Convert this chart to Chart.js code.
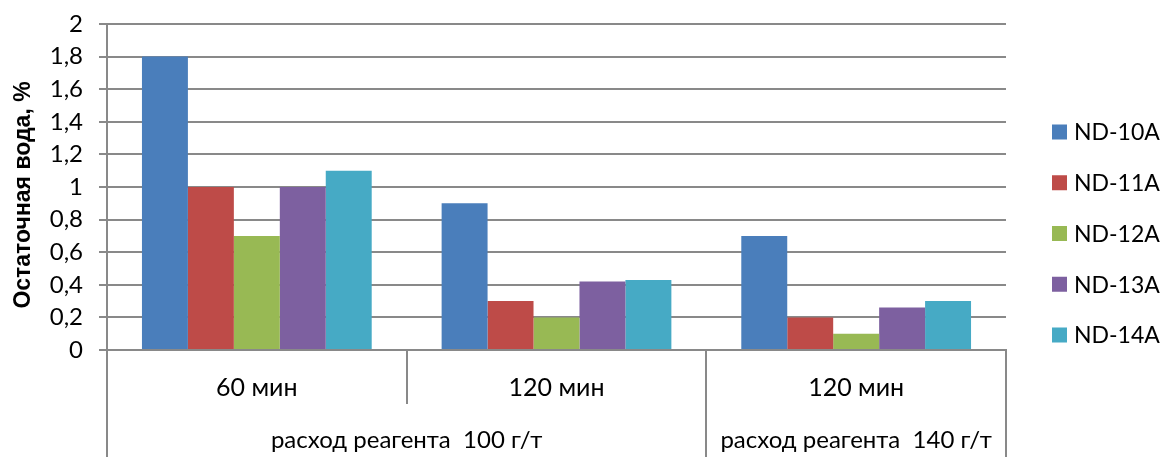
<!DOCTYPE html>
<html>
<head>
<meta charset="utf-8">
<script src="https://cdn.jsdelivr.net/npm/chart.js@4/dist/chart.umd.min.js"></script>
<style>
  html, body { margin: 0; padding: 0; background: #ffffff; }
  #wrap { width: 1163px; height: 457px; }
</style>
</head>
<body>
<div id="wrap"><canvas id="c" width="1163" height="457"></canvas></div>
<script>
// Categories (first row under the axis) and the dosage groups below them
const categories = ['60 мин', '120 мин', '120 мин'];
const groupLabels = ['расход реагента  100 г/т', 'расход реагента  140 г/т'];
const groupSpans = [2, 1];

// Residual water, % for each demulsifier
const seriesNames = ['ND-10A', 'ND-11A', 'ND-12A', 'ND-13A', 'ND-14A'];
const nd10a = [1.8, 0.9, 0.7];
const nd11a = [1.0, 0.3, 0.2];
const nd12a = [0.7, 0.2, 0.1];
const nd13a = [1.0, 0.42, 0.26];
const nd14a = [1.1, 0.43, 0.3];
const seriesColors = ['#4A7EBB', '#BE4B48', '#98B954', '#7D60A0', '#46AAC5'];

// Value axis
const yMin = 0;
const yMax = 2;
const yStep = 0.2;
const yTitle = 'Остаточная вода, %';

const axisGrey = '#898989';
const labelFont = 'Lato, "Open Sans", sans-serif';

const seriesValues = [nd10a, nd11a, nd12a, nd13a, nd14a];

const decor = {
  id: 'decor',
  afterDraw(chart) {
    const ctx = chart.ctx;
    const xs = chart.scales.x;
    const area = chart.chartArea;
    const n = categories.length;
    const edge = i => {
      if (i <= 0) return xs.left;
      if (i >= n) return xs.right;
      return (xs.getPixelForValue(i - 1) + xs.getPixelForValue(i)) / 2;
    };
    ctx.save();

    // category dividers below the axis
    ctx.strokeStyle = axisGrey;
    ctx.lineWidth = 2;
    const groupEnds = [];
    let acc = 0;
    groupSpans.forEach(s => { acc += s; groupEnds.push(acc); });
    for (let i = 0; i <= n; i++) {
      const x = Math.round(edge(i));
      const full = i === 0 || groupEnds.includes(i);
      ctx.beginPath();
      ctx.moveTo(x, area.bottom);
      ctx.lineTo(x, full ? chart.height : area.bottom + 54);
      ctx.stroke();
    }

    // dosage group labels
    ctx.fillStyle = '#000';
    ctx.font = '24px ' + labelFont;
    ctx.textAlign = 'center';
    ctx.textBaseline = 'middle';
    let start = 0;
    groupLabels.forEach((lab, g) => {
      const end = start + groupSpans[g];
      ctx.fillText(lab, (edge(start) + edge(end)) / 2, area.bottom + 90);
      start = end;
    });

    // value axis title
    ctx.save();
    ctx.translate(24, 195);
    ctx.rotate(-Math.PI / 2);
    ctx.font = 'bold 23px "Liberation Sans", Arial, sans-serif';
    ctx.textAlign = 'center';
    ctx.textBaseline = 'middle';
    ctx.fillText(yTitle, 0, 0);
    ctx.restore();

    // legend
    ctx.font = '23px ' + labelFont;
    ctx.textAlign = 'left';
    ctx.textBaseline = 'middle';
    chart.data.datasets.forEach((ds, i) => {
      const cy = 132 + i * 50.75;
      ctx.fillStyle = ds.backgroundColor;
      ctx.fillRect(1052, cy - 7.5, 15, 15);
      ctx.fillStyle = '#000';
      ctx.fillText(ds.label, 1074, cy + 1);
    });
    ctx.restore();
  }
};

new Chart(document.getElementById('c'), {
  type: 'bar',
  data: {
    labels: categories,
    datasets: seriesNames.map((name, i) => ({
      label: name,
      data: seriesValues[i],
      backgroundColor: seriesColors[i],
      borderWidth: 0,
      categoryPercentage: 0.7667,
      barPercentage: 1
    }))
  },
  options: {
    responsive: false,
    animation: false,
    layout: { padding: { top: 24, right: 157, left: 0, bottom: 0 } },
    plugins: {
      legend: { display: false },
      tooltip: { enabled: false }
    },
    scales: {
      x: {
        offset: true,
        grid: { display: false, drawTicks: false },
        border: { display: true, color: axisGrey, width: 2 },
        ticks: {
          color: '#000',
          font: { family: labelFont, size: 25 },
          padding: 23,
          maxRotation: 0,
          autoSkip: false
        },
        afterFit(scale) { scale.height = 107; scale.paddingLeft = 0; scale.paddingRight = 0; }
      },
      y: {
        min: yMin,
        max: yMax,
        grid: { color: axisGrey, lineWidth: 2, tickLength: 8 },
        border: { display: true, color: axisGrey, width: 2 },
        ticks: {
          stepSize: yStep,
          color: '#000',
          padding: 16,
          font: { family: labelFont, size: 24 },
          callback: v => String(Math.round(v * 10) / 10).replace('.', ',')
        },
        afterFit(scale) { scale.width = 107; scale.paddingTop = 0; scale.paddingBottom = 0; }
      }
    }
  },
  plugins: [decor]
});
</script>
</body>
</html>
